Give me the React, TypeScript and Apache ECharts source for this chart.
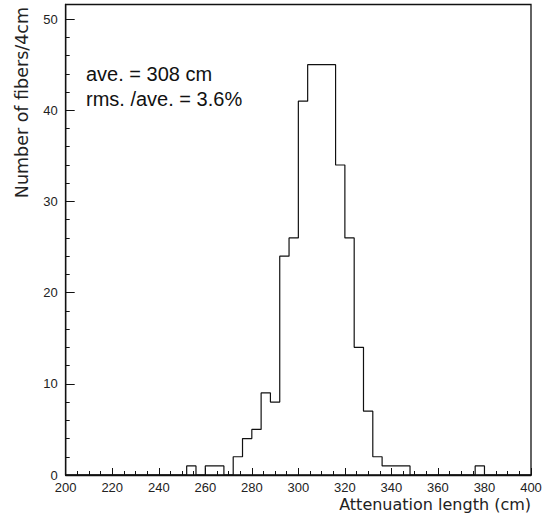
import React, { useEffect, useRef } from "react";
import * as echarts from "echarts";

// Histogram: number of fibers per 4 cm bin of attenuation length
const X_MIN = 200;
const X_MAX = 400;
const BIN_WIDTH = 4;
const counts: number[] = [
  0, 0, 0, 0, 0, 0, 0, 0, 0, 0, // 200-236
  0, 0, 0, 1, 0, 1, 1, 0, 2, 4, // 240-276
  5, 9, 8, 24, 26, 41, 45, 45, 45, 34, // 280-316
  26, 14, 7, 2, 1, 1, 1, 0, 0, 0, // 320-356
  0, 0, 0, 0, 1, 0, 0, 0, 0, 0, // 360-396
];
const xTickLabels = [200, 220, 240, 260, 280, 300, 320, 340, 360, 380, 400];
const yTickLabels = [0, 10, 20, 30, 40, 50];
const annotations = ["ave. = 308 cm", "rms. /ave. = 3.6%"];
const xTitle = "Attenuation length (cm)";
const yTitle = "Number of fibers/4cm";

const Y_MAX = 51.6;

export default function App() {
  const ref = useRef<HTMLDivElement>(null);
  useEffect(() => {
    if (!ref.current) return;
    const chart = echarts.init(ref.current, undefined, { renderer: "svg" });
    const stepData: number[][] = counts.map((c, i) => [X_MIN + i * BIN_WIDTH, c]);
    stepData.push([X_MAX, 0]);
    const labelFont = { fontFamily: "Liberation Sans", fontSize: 13, lineHeight: 12, color: "#222" };
    chart.setOption({
      animation: false,
      backgroundColor: "#fff",
      grid: {
        left: 65.7,
        right: 22,
        top: 4.5,
        bottom: 38,
        containLabel: false,
        outerBoundsMode: "none",
        show: true,
        borderColor: "#111",
        borderWidth: 1.3,
      },
      xAxis: {
        type: "value",
        min: X_MIN,
        max: X_MAX,
        interval: 20,
        axisLine: { show: true, onZero: false, lineStyle: { color: "#111", width: 1.3 } },
        axisTick: { show: true, inside: true, length: 7, lineStyle: { color: "#111" } },
        minorTick: { show: true, splitNumber: 4, length: 4, lineStyle: { color: "#111" } },
        splitLine: { show: false },
        axisLabel: {
          ...labelFont,
          margin: 6,
          formatter: (v: number) => (xTickLabels.includes(v) ? String(v) : ""),
        },
      },
      yAxis: [
        {
          type: "value",
          min: 0,
          max: Y_MAX,
          interval: 10,
          axisLine: { show: true, lineStyle: { color: "#111", width: 1.3 } },
          axisTick: { show: true, inside: true, length: 9, lineStyle: { color: "#111" } },
          splitLine: { show: false },
          axisLabel: {
            ...labelFont,
            margin: 8,
            showMaxLabel: false,
            formatter: (v: number) => (yTickLabels.includes(v) ? String(v) : ""),
          },
        },
        {
          type: "value",
          position: "left",
          min: 0,
          max: Y_MAX,
          interval: 2,
          axisLine: { show: false },
          axisTick: { show: true, inside: true, length: 4, lineStyle: { color: "#111" } },
          splitLine: { show: false },
          axisLabel: { show: false },
        },
      ],
      graphic: [
        {
          type: "text",
          x: 531,
          y: 504,
          style: {
            text: xTitle,
            fontFamily: "DejaVu Sans",
            fontSize: 16,
            fill: "#222",
            textAlign: "right",
            textVerticalAlign: "middle",
          },
        },
        {
          type: "text",
          x: 22,
          y: 7,
          rotation: Math.PI / 2,
          style: {
            text: yTitle,
            fontFamily: "DejaVu Sans",
            fontSize: 17.5,
            fill: "#222",
            textAlign: "right",
            textVerticalAlign: "middle",
          },
        },
        {
          type: "text",
          x: 86,
          y: 74,
          style: {
            text: annotations[0],
            fontFamily: "Liberation Sans",
            fontSize: 20,
            fill: "#111",
            textAlign: "left",
            textVerticalAlign: "middle",
          },
        },
        {
          type: "text",
          x: 86,
          y: 99,
          style: {
            text: annotations[1],
            fontFamily: "Liberation Sans",
            fontSize: 20,
            fill: "#111",
            textAlign: "left",
            textVerticalAlign: "middle",
          },
        },
      ],
      series: [
        {
          type: "line",
          step: "end",
          yAxisIndex: 0,
          data: stepData,
          symbol: "none",
          lineStyle: { color: "#111", width: 1.2 },
          silent: true,
        },
      ],
    });
    return () => chart.dispose();
  }, []);
  return (
    <div
      ref={ref}
      style={{ position: "fixed", left: 0, top: 0, width: 553, height: 513, background: "#fff" }}
    />
  );
}
